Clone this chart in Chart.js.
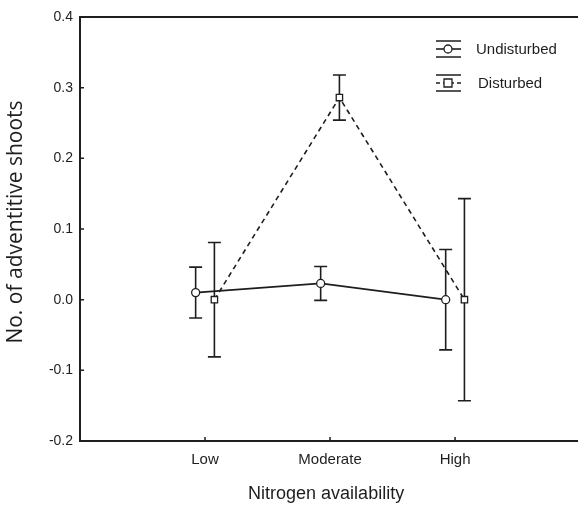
<!DOCTYPE html>
<html>
<head>
<meta charset="utf-8">
<script src="https://cdn.jsdelivr.net/npm/chart.js@4.4.1/dist/chart.umd.min.js"></script>
<style>
  html, body { margin: 0; padding: 0; background: #fff; }
  #wrap { width: 578px; height: 505px; position: relative; }
</style>
</head>
<body>
<div id="wrap"><canvas id="chart"></canvas></div>
<script>
// data
const categories = ['Low', 'Moderate', 'High'];
const undisturbedMean = [0.010, 0.023, 0.000];
const undisturbedErr = [0.036, 0.024, 0.071];
const disturbedMean = [0.000, 0.286, 0.000];
const disturbedErr = [0.081, 0.032, 0.143];
const yTicks = [-0.2, -0.1, 0.0, 0.1, 0.2, 0.3, 0.4];
const seriesNames = ['Undisturbed', 'Disturbed'];
const yTitle = 'No. of adventitive shoots';

const INK = '#1e1e1e';
const FONT = 'Arial, "Liberation Sans", sans-serif';
const DODGE = 0.075;   // horizontal shift of each group off the category tick
const CAP = 6.5;       // half width of error-bar caps

const toPoints = (means, shift) => means.map((y, i) => ({ x: i + 1 + shift, y }));

// error bars, drawn under the markers
const errorBars = {
  id: 'errorBars',
  beforeDatasetsDraw(chart) {
    const { ctx, scales: { x, y } } = chart;
    const sets = [[undisturbedMean, undisturbedErr, -DODGE], [disturbedMean, disturbedErr, DODGE]];
    ctx.save();
    ctx.strokeStyle = INK;
    ctx.lineWidth = 1.6;
    sets.forEach(([means, errs, shift]) => {
      means.forEach((m, i) => {
        const px = x.getPixelForValue(i + 1 + shift);
        const top = y.getPixelForValue(m + errs[i]);
        const bot = y.getPixelForValue(m - errs[i]);
        ctx.beginPath();
        ctx.moveTo(px, top); ctx.lineTo(px, bot);
        ctx.moveTo(px - CAP, top); ctx.lineTo(px + CAP, top);
        ctx.moveTo(px - CAP, bot); ctx.lineTo(px + CAP, bot);
        ctx.stroke();
      });
    });
    ctx.restore();
  },
};

// frame with inward ticks, y title and legend
const frame = {
  id: 'frame',
  afterDraw(chart) {
    const { ctx, chartArea: a, scales: { x, y } } = chart;
    const edge = chart.width;
    ctx.save();
    ctx.strokeStyle = INK;
    ctx.lineWidth = 2;
    ctx.beginPath();
    ctx.moveTo(edge, a.top);
    ctx.lineTo(a.left, a.top);
    ctx.lineTo(a.left, a.bottom);
    ctx.lineTo(edge, a.bottom);
    ctx.stroke();

    ctx.lineWidth = 1.5;
    ctx.beginPath();
    yTicks.forEach(v => {
      const py = y.getPixelForValue(v);
      ctx.moveTo(a.left, py); ctx.lineTo(a.left + 4, py);
    });
    categories.forEach((c, i) => {
      const px = x.getPixelForValue(i + 1);
      ctx.moveTo(px, a.bottom); ctx.lineTo(px, a.bottom - 4);
    });
    ctx.stroke();

    // y axis title
    ctx.save();
    ctx.translate(16, 222);
    ctx.rotate(-Math.PI / 2);
    ctx.font = '21px "Open Sans", sans-serif';
    ctx.fillStyle = INK;
    ctx.textAlign = 'center';
    ctx.textBaseline = 'middle';
    ctx.fillText(yTitle, 0, 0);
    ctx.restore();

    // legend
    const lx = 448, rows = [49, 83];
    ctx.font = '15px ' + FONT;
    ctx.fillStyle = INK;
    ctx.textBaseline = 'middle';
    rows.forEach((ry, k) => {
      ctx.lineWidth = 1.6;
      ctx.setLineDash([]);
      ctx.beginPath();
      ctx.moveTo(lx - 12, ry - 8); ctx.lineTo(lx + 13, ry - 8);
      ctx.moveTo(lx - 12, ry + 8); ctx.lineTo(lx + 13, ry + 8);
      ctx.stroke();
      if (k === 1) ctx.setLineDash([4, 3]);
      ctx.beginPath();
      ctx.moveTo(lx - 12, ry); ctx.lineTo(lx + 13, ry);
      ctx.stroke();
      ctx.setLineDash([]);
      ctx.fillStyle = '#fff';
      ctx.lineWidth = 1.3;
      ctx.beginPath();
      if (k === 0) ctx.arc(lx, ry, 4, 0, Math.PI * 2);
      else ctx.rect(lx - 4, ry - 4, 8, 8);
      ctx.fill(); ctx.stroke();
      ctx.fillStyle = INK;
      ctx.fillText(seriesNames[k], k === 0 ? 476 : 478, ry + 1);
    });
    ctx.restore();
  },
};

new Chart(document.getElementById('chart'), {
  type: 'line',
  data: {
    datasets: [
      {
        label: seriesNames[0],
        data: toPoints(undisturbedMean, -DODGE),
        borderColor: INK,
        borderWidth: 1.6,
        pointStyle: 'circle',
        pointRadius: 4,
        pointBorderWidth: 1.3,
        pointBackgroundColor: '#fff',
        pointBorderColor: INK,
        tension: 0,
      },
      {
        label: seriesNames[1],
        data: toPoints(disturbedMean, DODGE),
        borderColor: INK,
        borderWidth: 1.6,
        borderDash: [5, 4],
        pointStyle: 'rect',
        pointRadius: 4.5,
        pointBorderWidth: 1.3,
        pointBackgroundColor: '#fff',
        pointBorderColor: INK,
        tension: 0,
      },
    ],
  },
  plugins: [errorBars, frame],
  options: {
    responsive: true,
    maintainAspectRatio: false,
    animation: false,
    layout: { padding: { top: 17, right: 0, left: 0, bottom: 0 } },
    plugins: { legend: { display: false }, tooltip: { enabled: false } },
    scales: {
      x: {
        type: 'linear',
        min: 0,
        max: 3.937,
        grid: { display: false, drawTicks: false },
        border: { display: false },
        afterBuildTicks: s => { s.ticks = categories.map((c, i) => ({ value: i + 1 })); },
        afterFit: s => { s.height = 64; },
        ticks: {
          color: INK,
          padding: 10,
          maxRotation: 0,
          font: { family: FONT, size: 15 },
          callback: v => categories[Math.round(v) - 1] ?? '',
        },
        title: {
          display: true,
          text: 'Nitrogen availability',
          color: INK,
          font: { family: FONT, size: 18 },
          padding: { top: 0, bottom: 0 },
        },
      },
      y: {
        min: -0.2,
        max: 0.4,
        grid: { display: false, drawTicks: false },
        border: { display: false },
        afterBuildTicks: s => { s.ticks = yTicks.map(v => ({ value: v })); },
        afterFit: s => { s.width = 80; },
        ticks: {
          color: INK,
          padding: 7,
          font: { family: FONT, size: 14 },
          callback: v => v.toFixed(1),
        },
      },
    },
  },
});
</script>
</body>
</html>
